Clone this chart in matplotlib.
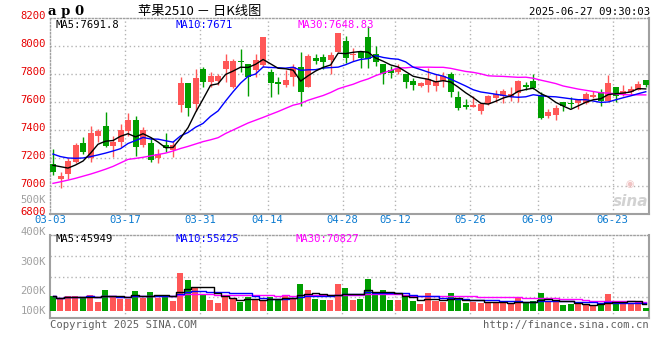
import numpy as np
import pandas as pd
import matplotlib
matplotlib.use('Agg')
import matplotlib.pyplot as plt
import matplotlib.transforms as mtransforms

# ---------------- data (price in CNY/t, volume in K)
xtick_idx = [0, 10, 20, 29, 39, 46, 56, 65, 75]
xtick_lab = ['03-03', '03-17', '03-31', '04-14', '04-28', '05-12', '05-26', '06-09', '06-23']

opens = [7155, 7052, 7083, 7174, 7310, 7198, 7360, 7429, 7288, 7317,
         7393, 7471, 7295, 7310, 7198, 7293, 7257, 7579, 7733, 7588,
         7838, 7741, 7750, 7833, 7710, 7890, 7869, 7829, 7864, 7815,
         7745, 7721, 7781, 7851, 7705, 7912, 7919, 7900, 7960, 8038,
         7936, 7957, 8065, 7943, 7870, 7829, 7817, 7798, 7750, 7714,
         7721, 7714, 7750, 7798, 7638, 7579, 7567, 7536, 7586, 7631,
         7643, 7633, 7667, 7721, 7750, 7650, 7500, 7507, 7598, 7595,
         7595, 7595, 7636, 7671, 7610, 7707, 7655, 7669, 7686, 7757]
closes = [7102, 7072, 7179, 7293, 7245, 7381, 7393, 7288, 7317, 7398,
          7471, 7281, 7400, 7186, 7231, 7269, 7293, 7733, 7560, 7774,
          7745, 7786, 7786, 7893, 7895, 7883, 7776, 7900, 8065, 7738,
          7726, 7757, 7851, 7674, 7929, 7895, 7888, 7936, 8096, 7912,
          7943, 7917, 7910, 7888, 7798, 7810, 7845, 7745, 7721, 7738,
          7764, 7752, 7786, 7674, 7555, 7562, 7579, 7586, 7643, 7655,
          7679, 7655, 7750, 7707, 7702, 7488, 7531, 7560, 7574, 7583,
          7614, 7657, 7652, 7610, 7733, 7645, 7679, 7693, 7729, 7721]
highs = [7264, 7100, 7198, 7305, 7350, 7431, 7407, 7526, 7360, 7440,
         7521, 7502, 7424, 7348, 7264, 7381, 7321, 7781, 7733, 7834,
         7852, 7817, 7798, 7940, 7905, 7979, 7869, 7945, 8065, 7836,
         7781, 7829, 7874, 7955, 7940, 7943, 7940, 7960, 8096, 8072,
         7988, 7960, 8143, 8000, 7870, 7857, 7871, 7798, 7774, 7745,
         7841, 7798, 7812, 7812, 7679, 7621, 7643, 7586, 7650, 7686,
         7690, 7705, 7755, 7741, 7798, 7674, 7550, 7579, 7598, 7638,
         7618, 7674, 7681, 7693, 7793, 7707, 7721, 7714, 7750, 7757]
lows = [7080, 6983, 7050, 7162, 7226, 7169, 7317, 7281, 7210, 7281,
        7360, 7217, 7275, 7174, 7167, 7245, 7210, 7526, 7502, 7535,
        7710, 7710, 7721, 7745, 7698, 7811, 7643, 7780, 7850, 7638,
        7660, 7710, 7712, 7575, 7705, 7869, 7833, 7800, 7960, 7878,
        7893, 7845, 7845, 7857, 7731, 7769, 7798, 7698, 7686, 7705,
        7674, 7681, 7710, 7638, 7543, 7550, 7567, 7514, 7579, 7598,
        7595, 7607, 7602, 7686, 7695, 7479, 7488, 7471, 7536, 7555,
        7548, 7583, 7626, 7571, 7610, 7598, 7645, 7650, 7686, 7710]
# moving averages before enough history exists
ma5_head = [7148, 7138, 7128, 7150]
ma10_head = [7228, 7210, 7200, 7198, 7200, 7210, 7222, 7235, 7250]
ma30_head = [7019, 7030, 7042, 7055, 7070, 7085, 7102, 7120, 7140, 7165,
             7190, 7197, 7205, 7215, 7225, 7235, 7250, 7268, 7283, 7300,
             7317, 7330, 7345, 7375, 7400, 7425, 7450, 7470, 7490]

vols = [159, 147, 159, 159, 155, 163, 137, 183, 159, 147,
        147, 179, 153, 175, 153, 163, 141, 251, 223, 195,
        167, 143, 132, 163, 147, 137, 155, 143, 143, 155,
        143, 163, 147, 207, 183, 147, 143, 143, 205, 189,
        145, 149, 225, 165, 181, 145, 145, 158, 138, 128,
        169, 140, 134, 169, 142, 131, 136, 131, 136, 136,
        131, 131, 151, 131, 140, 172, 134, 134, 123, 128,
        128, 123, 120, 128, 165, 140, 128, 128, 128, 112]

price_ticks = [6800, 7000, 7200, 7400, 7600, 7800, 8000, 8200]
vol_ticks = [100, 200, 300, 400]

RED = '#ff5757'
GREEN = '#009e00'
GRID = '#b4b4b4'
FRAME = '#a0a0a0'
MONO = 'DejaVu Sans Mono'

n = len(closes)
x = np.arange(n)
opens = np.array(opens, float)
closes = np.array(closes, float)
highs = np.array(highs, float)
lows = np.array(lows, float)
vols = np.array(vols, float)

cs = pd.Series(closes)
ma5 = cs.rolling(5).mean().to_numpy()
ma10 = cs.rolling(10).mean().to_numpy()
ma30 = cs.rolling(30).mean().to_numpy()
ma5[:len(ma5_head)] = ma5_head
ma10[:len(ma10_head)] = ma10_head
ma30[:len(ma30_head)] = ma30_head

vs = pd.Series(vols)
vma5 = vs.rolling(5, min_periods=1).mean().to_numpy()
vma10 = vs.rolling(10, min_periods=1).mean().to_numpy()
vma30 = vs.rolling(30, min_periods=1).mean().to_numpy()

up = closes >= opens
cols = np.where(up, RED, GREEN)

W, H = 660, 360
fig = plt.figure(figsize=(6.6, 3.6), dpi=100)
fig.patch.set_facecolor('white')


def fx(px):
    return px / W


def fy(py):
    return 1 - py / H


def shift(label, dy_px):
    t = mtransforms.ScaledTranslation(0, dy_px / 100, fig.dpi_scale_trans)
    label.set_transform(label.get_transform() + t)


ax = fig.add_axes([fx(50), fy(214), fx(649) - fx(50), fy(18) - fy(214)])
axv = fig.add_axes([fx(50), fy(318), fx(649) - fx(50), fy(235) - fy(318)])

xl = (-0.333, 79.43)

# ---------------- price panel
ax.vlines(x, lows, highs, colors=cols, linewidth=1, zorder=3)
body_h = np.abs(closes - opens)
body_h = np.maximum(body_h, 8)
ax.bar(x, body_h, bottom=np.minimum(opens, closes), width=0.8, color=cols,
       linewidth=0, zorder=4)
ax.plot(x, ma30, color='#ff00ff', lw=1, zorder=5)
ax.plot(x, ma10, color='#0000ff', lw=1, zorder=6)
ax.plot(x, ma5, color='black', lw=1, zorder=7)

ax.set_xlim(*xl)
ax.set_ylim(price_ticks[0], price_ticks[-1])
for p in price_ticks[1:-1]:
    ax.axhline(p, color=GRID, lw=1, ls=(0, (1, 2)), zorder=1)
for i in xtick_idx[1:]:
    ax.axvline(i - 0.4, color=GRID, lw=1, ls=(0, (1, 2)), zorder=1)
ax.set_yticks(price_ticks)
ax.set_yticklabels([str(p) for p in price_ticks], color='#e60000',
                   fontfamily=MONO, fontsize=7.6)
ax.set_xticks([i - 0.4 for i in xtick_idx])
ax.set_xticklabels(xtick_lab, color='#0a7ad0', fontfamily=MONO, fontsize=7.6)
ax.tick_params(length=0, pad=3)
ax.tick_params(axis='x', pad=1)
# price labels sit a little above their grid lines
for lab in ax.get_yticklabels():
    shift(lab, 2.5)
for s in ax.spines.values():
    s.set_color(FRAME)
    s.set_linewidth(1.5)
for k in ['top', 'left']:
    ax.spines[k].set_linestyle((0, (1, 1.5)))
    ax.spines[k].set_linewidth(1)

# ---------------- volume panel
vbase = vol_ticks[0]
axv.bar(x, vols - vbase, bottom=vbase, width=0.8, color=cols, linewidth=0,
        zorder=3)
axv.plot(x, vma30, color='#ff00ff', lw=1, drawstyle='steps-mid', zorder=5)
axv.plot(x, vma10, color='#0000ff', lw=1, drawstyle='steps-mid', zorder=6)
axv.plot(x, vma5, color='black', lw=1, drawstyle='steps-mid', zorder=7)
axv.set_xlim(*xl)
axv.set_ylim(72, 400)
for f in [0.25, 0.5, 0.75]:
    axv.axhline(72 + f * (400 - 72), color=GRID, lw=1, ls=(0, (1, 2)), zorder=1)
for i in xtick_idx[1:]:
    axv.axvline(i - 0.4, color=GRID, lw=1, ls=(0, (1, 2)), zorder=1)
axv.set_xticks([])
axv.set_yticks(vol_ticks)
axv.set_yticklabels(['%dK' % v for v in vol_ticks], color='#a0a0a0',
                    fontfamily=MONO, fontsize=7.6)
axv.tick_params(length=0, pad=3)
for lab, dy in zip(axv.get_yticklabels(), [1, -4, -1, 4]):
    shift(lab, dy)
for s in axv.spines.values():
    s.set_color(FRAME)
    s.set_linewidth(1.5)
axv.spines['top'].set_linestyle((0, (1, 1.5)))
axv.spines['top'].set_linewidth(1)

# ---------------- texts
fig.text(fx(48), fy(11), 'a p 0', fontfamily='DejaVu Serif', fontweight='bold',
         fontsize=9.5, va='center', ha='left')
fig.text(fx(200), fy(11), '苹果2510 － 日K线图', fontfamily=['Noto Sans CJK SC', 'DejaVu Sans'],
         fontsize=9.5, va='center', ha='center')
fig.text(fx(650), fy(12), '2025-06-27 09:30:03', fontfamily=MONO, fontsize=7.6,
         va='center', ha='right')

fig.text(fx(55), fy(25), 'MA5:%.1f' % 7691.8, color='black', fontfamily=MONO,
         fontsize=7.6, va='center')
fig.text(fx(175), fy(25), 'MA10:7671', color='#0000ff', fontfamily=MONO,
         fontsize=7.6, va='center')
fig.text(fx(297), fy(25), 'MA30:7648.83', color='#ff00ff', fontfamily=MONO,
         fontsize=7.6, va='center')
fig.text(fx(55), fy(239), 'MA5:45949', color='black', fontfamily=MONO,
         fontsize=7.6, va='center')
fig.text(fx(175), fy(239), 'MA10:55425', color='#0000ff', fontfamily=MONO,
         fontsize=7.6, va='center')
fig.text(fx(295), fy(239), 'MA30:70827', color='#ff00ff', fontfamily=MONO,
         fontsize=7.6, va='center')

fig.text(fx(46), fy(200), '500K', color='#a0a0a0', fontfamily=MONO,
         fontsize=7.6, va='center', ha='right')
fig.text(fx(50), fy(325), 'Copyright 2025 SINA.COM', color='#606060',
         fontfamily=MONO, fontsize=7.6, va='center', ha='left')
fig.text(fx(649), fy(325), 'http://finance.sina.com.cn', color='#606060',
         fontfamily=MONO, fontsize=7.6, va='center', ha='right')
# faint sina watermark
fig.text(fx(630), fy(184), '◉', color='#f0c4c4', fontsize=7,
         fontfamily='DejaVu Sans', va='center', ha='center')
fig.text(fx(648), fy(201), 'sina', color='#d2d2d2', fontsize=11,
         fontstyle='italic', fontweight='bold', va='center', ha='right')

fig.savefig('out.png', dpi=100)
